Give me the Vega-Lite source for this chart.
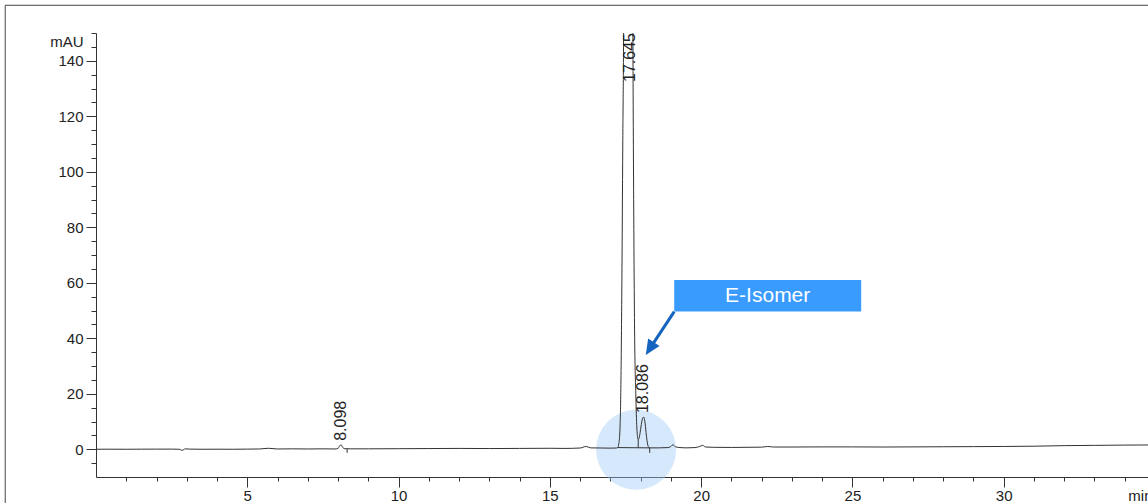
{
  "$schema": "https://vega.github.io/schema/vega-lite/v6.json",
  "width": 1059,
  "height": 444,
  "autosize": "none",
  "padding": {"left": 96, "top": 33, "right": 0, "bottom": 26},
  "background": "white",
  "config": {
    "view": {"stroke": null},
    "font": "Liberation Sans",
    "axis": {"domainColor": "#333", "tickColor": "#333", "labelColor": "#222", "labelFontSize": 15, "labelFont": "Liberation Sans", "grid": false, "titleFont": "Liberation Sans", "titleColor": "#222"}
  },
  "datasets": {
    "trace": [
      {"rt": 0.0, "mAU": 0.0}, {"rt": 0.5, "mAU": 0.02}, {"rt": 1.0, "mAU": 0.0}, {"rt": 1.5, "mAU": 0.03},
      {"rt": 2.0, "mAU": 0.05}, {"rt": 2.5, "mAU": 0.05}, {"rt": 2.75, "mAU": 0.0}, {"rt": 2.85, "mAU": -0.4},
      {"rt": 2.95, "mAU": 0.15}, {"rt": 3.1, "mAU": 0.05}, {"rt": 3.5, "mAU": 0.0}, {"rt": 4.0, "mAU": 0.02},
      {"rt": 4.5, "mAU": 0.0}, {"rt": 5.0, "mAU": 0.05}, {"rt": 5.4, "mAU": 0.1}, {"rt": 5.7, "mAU": 0.35},
      {"rt": 6.0, "mAU": 0.1}, {"rt": 6.5, "mAU": 0.15}, {"rt": 7.0, "mAU": 0.1}, {"rt": 7.5, "mAU": 0.15},
      {"rt": 7.9, "mAU": 0.1}, {"rt": 8.0, "mAU": 0.3}, {"rt": 8.05, "mAU": 1.2}, {"rt": 8.1, "mAU": 1.6},
      {"rt": 8.15, "mAU": 0.8}, {"rt": 8.2, "mAU": 0.2}, {"rt": 8.4, "mAU": 0.15}, {"rt": 9.0, "mAU": 0.15},
      {"rt": 10.0, "mAU": 0.2}, {"rt": 11.0, "mAU": 0.25}, {"rt": 12.0, "mAU": 0.3}, {"rt": 13.0, "mAU": 0.25},
      {"rt": 14.0, "mAU": 0.3}, {"rt": 15.0, "mAU": 0.35}, {"rt": 15.5, "mAU": 0.3}, {"rt": 16.0, "mAU": 0.45},
      {"rt": 16.2, "mAU": 1.0}, {"rt": 16.35, "mAU": 0.5}, {"rt": 16.7, "mAU": 0.45}, {"rt": 17.0, "mAU": 0.4},
      {"rt": 17.2, "mAU": 0.45}, {"rt": 17.24, "mAU": 0.6}, {"rt": 17.28, "mAU": 2}, {"rt": 17.32, "mAU": 8},
      {"rt": 17.35, "mAU": 25}, {"rt": 17.38, "mAU": 60}, {"rt": 17.41, "mAU": 110}, {"rt": 17.44, "mAU": 160},
      {"rt": 17.47, "mAU": 300}, {"rt": 17.52, "mAU": 800}, {"rt": 17.59, "mAU": 1500}, {"rt": 17.66, "mAU": 800},
      {"rt": 17.71, "mAU": 300}, {"rt": 17.745, "mAU": 150}, {"rt": 17.77, "mAU": 90}, {"rt": 17.8, "mAU": 43},
      {"rt": 17.84, "mAU": 20}, {"rt": 17.87, "mAU": 9}, {"rt": 17.9, "mAU": 4.2}, {"rt": 17.92, "mAU": 3.5},
      {"rt": 17.96, "mAU": 4.5}, {"rt": 18.01, "mAU": 8}, {"rt": 18.06, "mAU": 11}, {"rt": 18.1, "mAU": 11.6},
      {"rt": 18.14, "mAU": 10}, {"rt": 18.18, "mAU": 6}, {"rt": 18.22, "mAU": 2.5}, {"rt": 18.26, "mAU": 0.8},
      {"rt": 18.3, "mAU": 0.5}, {"rt": 18.6, "mAU": 0.5}, {"rt": 18.9, "mAU": 0.6}, {"rt": 19.0, "mAU": 1.0},
      {"rt": 19.07, "mAU": 1.6}, {"rt": 19.15, "mAU": 0.9}, {"rt": 19.3, "mAU": 0.6}, {"rt": 19.5, "mAU": 0.5},
      {"rt": 19.8, "mAU": 0.6}, {"rt": 19.95, "mAU": 1.0}, {"rt": 20.05, "mAU": 1.4}, {"rt": 20.15, "mAU": 0.8},
      {"rt": 20.4, "mAU": 0.7}, {"rt": 21.0, "mAU": 0.65}, {"rt": 22.0, "mAU": 0.75}, {"rt": 22.2, "mAU": 1.0},
      {"rt": 22.4, "mAU": 0.8}, {"rt": 23.0, "mAU": 0.8}, {"rt": 24.0, "mAU": 0.85}, {"rt": 25.0, "mAU": 0.85},
      {"rt": 26.0, "mAU": 0.8}, {"rt": 27.0, "mAU": 0.85}, {"rt": 28.0, "mAU": 0.9}, {"rt": 29.0, "mAU": 0.95},
      {"rt": 30.0, "mAU": 1.0}, {"rt": 31.0, "mAU": 1.1}, {"rt": 32.0, "mAU": 1.3}, {"rt": 33.0, "mAU": 1.4},
      {"rt": 34.0, "mAU": 1.5}, {"rt": 35.0, "mAU": 1.55}
    ],
    "peaks": [
      {"rt": 8.098, "mAU": 1.6, "label": "8.098"},
      {"rt": 17.645, "mAU": 1500, "label": "17.645"},
      {"rt": 18.086, "mAU": 11.6, "label": "18.086"}
    ],
    "events": [
      {"rt": 17.24, "mAU": 0.6, "rt2": 18.3, "mAU2": 0.5},
      {"rt": 17.92, "mAU": 3.5, "rt2": 17.92, "mAU2": 0.55},
      {"rt": 18.3, "mAU": 0.5, "rt2": 18.3, "mAU2": -1.3},
      {"rt": 8.3, "mAU": 0.2, "rt2": 8.3, "mAU2": -1.3}
    ],
    "frame": [{"rt": -3, "rt2": 40, "mAU": 160, "mAU2": -40}],
    "focus": [{"rt": 17.85, "mAU": -0.2}],
    "callout": [{"rt": 19.11, "rt2": 25.29, "mAU": 49.6, "mAU2": 61.0, "rtc": 22.2, "mAUc": 55.3, "text": "E-Isomer"}],
    "arrow": [{"rt": 19.11, "mAU": 49.6, "rt2": 18.38, "mAU2": 37.5}],
    "arrowhead": [{"rt": 18.17, "mAU": 34.0}]
  },
  "encoding": {
    "x": {
      "field": "rt", "type": "quantitative",
      "scale": {"domain": [0, 35], "nice": false, "zero": false},
      "axis": {
        "title": null,
        "values": [1,2,3,4,5,6,7,8,9,10,11,12,13,14,15,16,17,18,19,20,21,22,23,24,25,26,27,28,29,30,31,32,33,34,35],
        "labelExpr": "datum.value === 35 ? 'min' : (datum.value % 5 === 0 ? datum.label : '')",
        "labelFlush": true,
        "labelFlushOffset": -3,
        "labelOverlap": false,
        "labelPadding": 1,
        "tickSize": {"condition": {"test": "datum.value % 5 === 0", "value": 10}, "value": 4}
      }
    },
    "y": {
      "field": "mAU", "type": "quantitative",
      "scale": {"domain": [-10, 150], "nice": false, "zero": false},
      "axis": {
        "title": "mAU",
        "titleAngle": 0,
        "titleX": -13,
        "titleY": 8,
        "titleAlign": "right",
        "titleBaseline": "middle",
        "titleFontWeight": "normal",
        "titleFontSize": 15,
        "values": [-5,0,5,10,15,20,25,30,35,40,45,50,55,60,65,70,75,80,85,90,95,100,105,110,115,120,125,130,135,140,145,150],
        "labelExpr": "datum.value >= 0 && datum.value % 20 === 0 ? datum.label : ''",
        "labelOverlap": false,
        "labelPadding": 3,
        "tickSize": {"condition": {"test": "datum.value % 20 === 0", "value": 10}, "value": 5}
      }
    }
  },
  "layer": [
    {
      "data": {"name": "frame"},
      "mark": {"type": "rect", "fillOpacity": 0, "stroke": "#444", "strokeWidth": 1},
      "encoding": {"x2": {"field": "rt2"}, "y2": {"field": "mAU2"}}
    },
    {
      "data": {"name": "focus"},
      "mark": {"type": "point", "shape": "circle", "filled": true, "size": 6400, "color": "#9ec8f5", "opacity": 0.42}
    },
    {
      "data": {"name": "trace"},
      "mark": {"type": "line", "color": "#333", "strokeWidth": 1, "clip": true, "interpolate": "monotone"}
    },
    {
      "data": {"name": "events"},
      "mark": {"type": "rule", "color": "#333", "strokeWidth": 1},
      "encoding": {"x2": {"field": "rt2"}, "y2": {"field": "mAU2"}}
    },
    {
      "data": {"name": "peaks"},
      "transform": [{"filter": "datum.mAU <= 150"}],
      "mark": {"type": "text", "angle": 270, "align": "left", "baseline": "middle", "dx": 4, "fontSize": 16, "color": "#222"},
      "encoding": {"text": {"field": "label"}}
    },
    {
      "data": {"name": "peaks"},
      "transform": [{"filter": "datum.mAU > 150"}],
      "mark": {"type": "text", "angle": 270, "align": "right", "baseline": "middle", "dx": 0, "fontSize": 16, "color": "#222"},
      "encoding": {"y": {"datum": 150, "type": "quantitative"}, "text": {"field": "label"}}
    },
    {
      "data": {"name": "callout"},
      "mark": {"type": "rect", "color": "#3a9bff"},
      "encoding": {"x2": {"field": "rt2"}, "y2": {"field": "mAU2"}}
    },
    {
      "data": {"name": "callout"},
      "mark": {"type": "text", "color": "white", "fontSize": 21, "align": "center", "baseline": "middle"},
      "encoding": {
        "x": {"field": "rtc", "type": "quantitative"},
        "y": {"field": "mAUc", "type": "quantitative"},
        "text": {"field": "text"}
      }
    },
    {
      "data": {"name": "arrow"},
      "mark": {"type": "rule", "color": "#1565c0", "strokeWidth": 3},
      "encoding": {"x2": {"field": "rt2"}, "y2": {"field": "mAU2"}}
    },
    {
      "data": {"name": "arrowhead"},
      "mark": {"type": "point", "shape": "M0,0L-0.9,2L0.9,2Z", "filled": true, "size": 225, "color": "#1565c0", "opacity": 1, "angle": 212.5}
    }
  ]
}
